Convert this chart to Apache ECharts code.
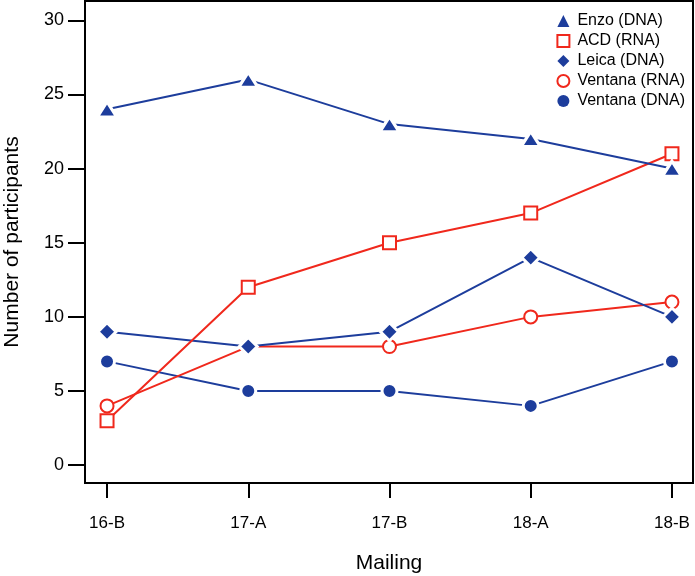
<!DOCTYPE html>
<html>
<head>
<meta charset="utf-8">
<script src="https://cdn.jsdelivr.net/npm/echarts@6/dist/echarts.min.js"></script>
<style>
    html, body { margin: 0; padding: 0; background: #fff; }
    #chart { width: 695px; height: 576px; }
</style>
</head>
<body>
<div id="chart"></div>
<script>
// Participants per mailing, by kit
const mailings = ['16-B', '17-A', '17-B', '18-A', '18-B'];
const enzoDNA = [24, 26, 23, 22, 20];
const acdRNA = [3, 12, 15, 17, 21];
const leicaDNA = [9, 8, 9, 14, 10];
const ventanaRNA = [4, 8, 8, 10, 11];
const ventanaDNA = [7, 5, 5, 4, 7];
const yTicks = [0, 5, 10, 15, 20, 25, 30];

const BLUE = '#1d3d9c';
const RED = '#f0281c';
const FONT = 'Liberation Sans';

function toPoints(values) {
    return values.map((v, i) => [i, v]);
}

function makeSeries(name, values, color, symbol, size, hollow) {
    return {
        name: name,
        type: 'line',
        data: toPoints(values),
        symbol: symbol,
        symbolSize: size,
        showAllSymbol: true,
        lineStyle: { color: color, width: 2 },
        itemStyle: hollow
            ? { color: '#fff', borderColor: color, borderWidth: 2 }
            : { color: color, borderColor: '#fff', borderWidth: 3 },
        emphasis: { disabled: true },
        animation: false
    };
}

function legendItem(name, color, icon, hollow) {
    return {
        name: name,
        icon: icon,
        itemStyle: hollow
            ? { color: '#fff', borderColor: color, borderWidth: 2 }
            : { color: color, borderWidth: 0 }
    };
}

const chart = echarts.init(document.getElementById('chart'));

chart.setOption({
    backgroundColor: '#fff',
    grid: {
        left: 85, right: 2, top: 1, bottom: 93,
        outerBoundsMode: 'none',
        containLabel: false,
        show: true,
        borderColor: '#000',
        borderWidth: 2,
        backgroundColor: 'transparent'
    },
    legend: {
        orient: 'vertical',
        right: 5,
        top: 8,
        itemGap: 4,
        itemWidth: 12,
        itemHeight: 12,
        textStyle: { fontFamily: FONT, fontSize: 16, color: '#000', padding: [0, 0, 0, 3] },
        data: [
            legendItem('Enzo (DNA)', BLUE, 'triangle', false),
            legendItem('ACD (RNA)', RED, 'rect', true),
            legendItem('Leica (DNA)', BLUE, 'diamond', false),
            legendItem('Ventana (RNA)', RED, 'circle', true),
            legendItem('Ventana (DNA)', BLUE, 'circle', false)
        ]
    },
    xAxis: {
        type: 'value',
        min: -0.156,
        max: 4.149,
        name: 'Mailing',
        nameLocation: 'middle',
        nameGap: 70,
        nameTextStyle: { fontFamily: FONT, fontSize: 21, color: '#000' },
        splitLine: { show: false },
        axisLine: { show: false, onZero: false },
        axisTick: {
            show: true,
            length: 15,
            lineStyle: { color: '#000', width: 2 },
            customValues: [0, 1, 2, 3, 4]
        },
        axisLabel: {
            margin: 32,
            fontFamily: FONT,
            fontSize: 17,
            color: '#000',
            customValues: [0, 1, 2, 3, 4],
            formatter: v => mailings[Math.round(v)]
        }
    },
    yAxis: {
        type: 'value',
        min: -1.2,
        max: 31.3,
        name: 'Number of participants',
        nameLocation: 'middle',
        nameGap: 62,
        nameTextStyle: { fontFamily: FONT, fontSize: 21, color: '#000' },
        splitLine: { show: false },
        axisLine: { show: false, onZero: false },
        axisTick: {
            show: true,
            length: 17,
            lineStyle: { color: '#000', width: 2 },
            customValues: yTicks
        },
        axisLabel: {
            margin: 21,
            fontFamily: FONT,
            fontSize: 18,
            color: '#000',
            customValues: yTicks
        }
    },
    series: [
        makeSeries('Ventana (DNA)', ventanaDNA, BLUE, 'circle', 15, false),
        makeSeries('Ventana (RNA)', ventanaRNA, RED, 'circle', 13, true),
        makeSeries('Leica (DNA)', leicaDNA, BLUE, 'diamond', 18, false),
        makeSeries('ACD (RNA)', acdRNA, RED, 'rect', 13, true),
        makeSeries('Enzo (DNA)', enzoDNA, BLUE, 'triangle', [19, 15], false)
    ]
});
</script>
</body>
</html>
